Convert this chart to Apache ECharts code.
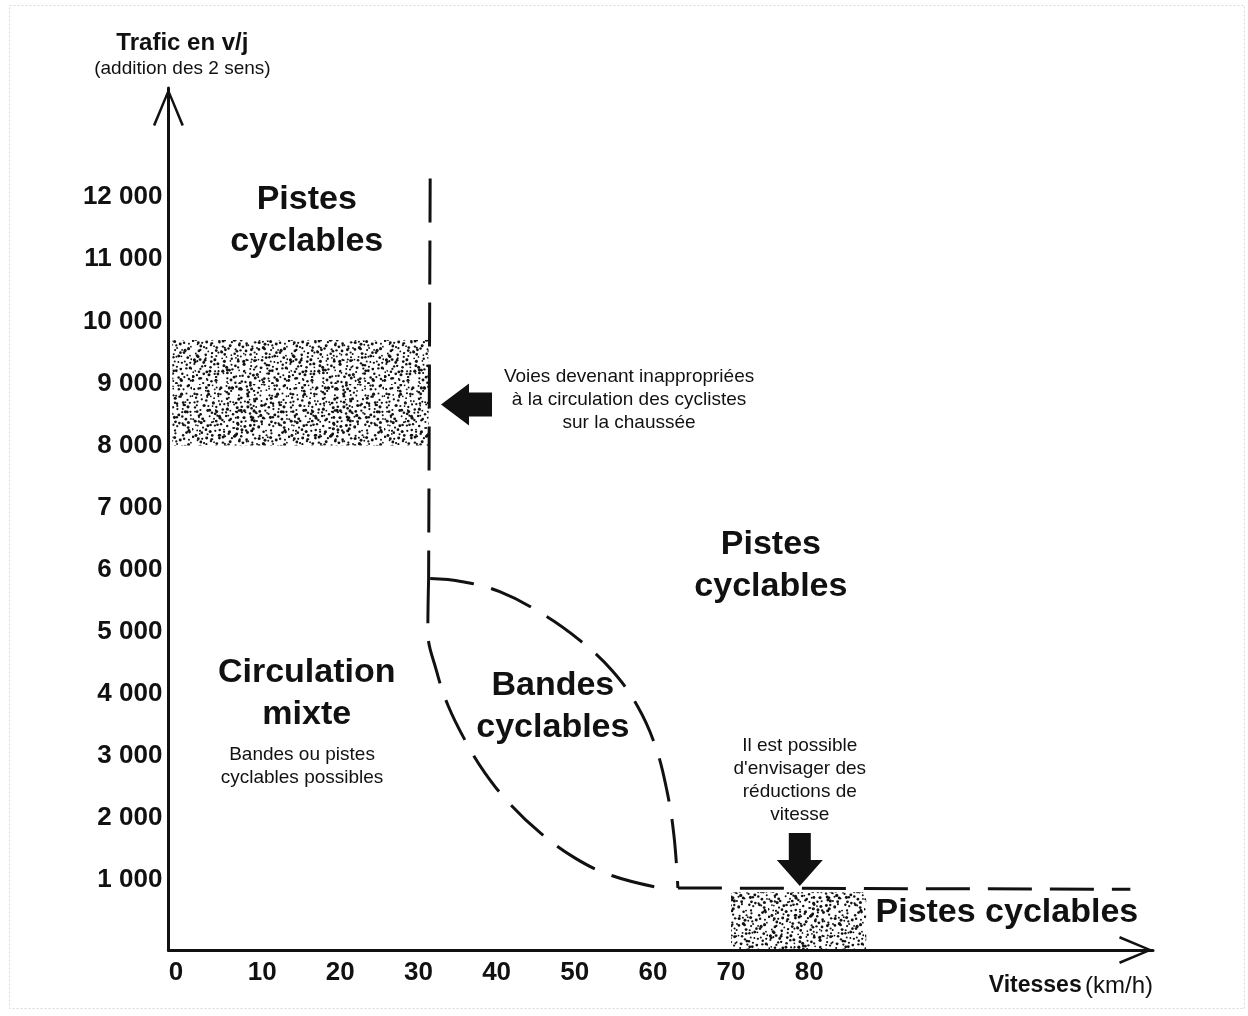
<!DOCTYPE html>
<html>
<head>
<meta charset="utf-8">
<title>Trafic / vitesse – aménagements cyclables</title>
<script src="https://cdn.jsdelivr.net/npm/echarts@6/dist/echarts.min.js"></script>
<style>
  html, body { margin: 0; padding: 0; background: #fff; }
  #chart { width: 1248px; height: 1016px; }
</style>
</head>
<body>
<div id="chart"></div>
<script>
const xTicks = [0, 10, 20, 30, 40, 50, 60, 70, 80]
const yTicks = [1000, 2000, 3000, 4000, 5000, 6000, 7000, 8000, 9000, 10000, 11000, 12000]

// limite verticale (~30 km/h)
const limit30 = [[31.5, 12300], [31.3, 5850]]
// fuseau "bandes cyclables" : bord bas / gauche
const bandesLower = [
  [31.3, 5850], [31.2, 5016], [32.3, 4371], [33.8, 3806], [36.0, 3242], [38.5, 2726],
  [41.7, 2226], [45.6, 1758], [50.0, 1355], [54.5, 1081], [60.3, 887]
]
// fuseau "bandes cyclables" : bord haut / droit
const bandesUpper = [
  [31.5, 5855], [35.6, 5806], [40.4, 5645], [45.6, 5306], [50.7, 4855], [54.8, 4371],
  [58.0, 3806], [60.3, 3161], [61.8, 2435], [62.7, 1710], [63.2, 870]
]
// seuil bas, au-delà de 60 km/h
const limitLow = [[63.2, 870], [121.1, 850]]

// zones en pointillé [x0, x1, y0, y1]
const stippleZones = [
  [-1.5, 31.3, 8000, 9700],
  [70, 87.3, -129, 800]
]

const arrowsLeft = [[36.15, 8661]]
const arrowsDown = [[78.8, 1331]]

const zoneLabels = [
  [15.7, 11629, 'Pistes\ncyclables'],
  [75.1, 6065, 'Pistes\ncyclables'],
  [15.7, 4000, 'Circulation\nmixte'],
  [47.2, 3790, 'Bandes\ncyclables'],
  [105.3, 468, 'Pistes cyclables']
]
const noteLabels = [
  [15.1, 2831, 'Bandes ou pistes\ncyclables possibles'],
  [56.95, 8734, 'Voies devenant inappropriées\nà la circulation des cyclistes\nsur la chaussée'],
  [78.8, 2605, 'Il est possible\nd\'envisager des\nréductions de\nvitesse']
]

const INK = '#111111'
const FONT = '"Liberation Sans", Arial, sans-serif'

function makeStipple() {
  const c = document.createElement('canvas')
  c.width = 96
  c.height = 96
  const ctx = c.getContext('2d')
  ctx.fillStyle = INK
  let s = 12345
  const rnd = () => (s = (s * 16807) % 2147483647) / 2147483647
  for (let gy = 0; gy < 96; gy += 4) {
    for (let gx = 0; gx < 96; gx += 4) {
      if (rnd() < 0.12) continue
      ctx.beginPath()
      ctx.arc(gx + rnd() * 4, gy + rnd() * 4, 0.85 + rnd() * 0.75, 0, Math.PI * 2)
      ctx.fill()
    }
  }
  return c
}
const stipple = makeStipple()

const dashed = { color: INK, width: 3, type: [44, 18], cap: 'butt' }

const chart = echarts.init(document.getElementById('chart'), null, { renderer: 'canvas' })

const option = {
  backgroundColor: '#fff',
  animation: false,
  textStyle: { fontFamily: FONT, color: INK },
  graphic: [{
    type: 'rect',
    silent: true,
    shape: { x: 9.5, y: 5.5, width: 1235, height: 1003 },
    style: { fill: null, stroke: '#d4d8df', lineWidth: 1, lineDash: [2, 2] }
  }],
  grid: { left: 168.4, right: 95, top: 88, bottom: 66, outerBoundsMode: 'none' },
  xAxis: {
    type: 'value',
    min: -2,
    max: 124,
    splitLine: { show: false },
    axisTick: { show: false },
    axisLine: {
      onZero: false,
      lineStyle: { color: INK, width: 3 },
      symbol: ['none', 'path://M14,0 L28,33 L25.6,34 L14,6 L2.4,34 L0,33 Z'],
      symbolSize: [28, 34],
      symbolOffset: [0, -17]
    },
    axisLabel: {
      customValues: xTicks,
      margin: 10,
      color: INK,
      fontSize: 26,
      fontWeight: 'bold',
      fontFamily: FONT,
      formatter: v => (v === 0 ? '{z|0}' : String(v)),
      rich: { z: { fontSize: 26, fontWeight: 'bold', fontFamily: FONT, color: INK, padding: [0, 16, 0, 0] } }
    },
    name: '{b|Vitesses} {r|(km/h)}',
    nameLocation: 'end',
    nameGap: 0,
    nameTextStyle: {
      align: 'right',
      verticalAlign: 'top',
      padding: [24, 0, 0, 0],
      rich: {
        b: { fontSize: 23, fontWeight: 'bold', fontFamily: FONT, color: INK },
        r: { fontSize: 24, fontFamily: FONT, color: INK }
      }
    }
  },
  yAxis: {
    type: 'value',
    min: -129,
    max: 13760,
    splitLine: { show: false },
    axisTick: { show: false },
    axisLine: {
      onZero: false,
      lineStyle: { color: INK, width: 3 },
      symbol: ['none', 'path://M15.5,0 L31,37 L28.6,38 L15.5,6 L2.4,38 L0,37 Z'],
      symbolSize: [31, 38],
      symbolOffset: [0, -19]
    },
    axisLabel: {
      customValues: yTicks,
      margin: 6,
      color: INK,
      fontSize: 26,
      fontWeight: 'bold',
      fontFamily: FONT,
      formatter: v => Math.round(v / 1000) + ' 000'
    },
    name: '{a|Trafic en v/j}\n{b|(addition des 2 sens)}',
    nameLocation: 'end',
    nameGap: 7,
    nameTextStyle: {
      align: 'center',
      verticalAlign: 'bottom',
      padding: [0, 0, 0, 28],
      rich: {
        a: { fontSize: 24, fontWeight: 'bold', fontFamily: FONT, color: INK, lineHeight: 28, align: 'center' },
        b: { fontSize: 19, fontFamily: FONT, color: INK, lineHeight: 24, align: 'center' }
      }
    }
  },
  series: [
    {
      type: 'custom',
      name: 'zones',
      z: 1,
      data: stippleZones,
      encode: { x: [0, 1], y: [2, 3] },
      renderItem: (params, api) => {
        const p0 = api.coord([api.value(0), api.value(3)])
        const p1 = api.coord([api.value(1), api.value(2)])
        return {
          type: 'rect',
          shape: { x: p0[0], y: p0[1], width: p1[0] - p0[0], height: p1[1] - p0[1] },
          style: { fill: { image: stipple, repeat: 'repeat' } }
        }
      }
    },
    { type: 'line', data: limit30, symbol: 'none', z: 3, lineStyle: dashed },
    { type: 'line', data: bandesLower, symbol: 'none', smooth: 0.4, z: 3, lineStyle: dashed },
    { type: 'line', data: bandesUpper, symbol: 'none', smooth: 0.4, z: 3, lineStyle: dashed },
    { type: 'line', data: limitLow, symbol: 'none', z: 3, lineStyle: dashed },
    {
      type: 'scatter',
      data: arrowsLeft,
      z: 4,
      symbol: 'path://M0,21 L28,0 L28,9 L51,9 L51,33 L28,33 L28,42 Z',
      symbolSize: [51, 42],
      itemStyle: { color: INK, opacity: 1 }
    },
    {
      type: 'scatter',
      data: arrowsDown,
      z: 4,
      symbol: 'path://M12,0 L34,0 L34,27 L46,27 L23,53 L0,27 L12,27 Z',
      symbolSize: [46, 53],
      itemStyle: { color: INK, opacity: 1 }
    },
    {
      type: 'scatter',
      data: zoneLabels.map(d => ({ value: [d[0], d[1]], name: d[2] })),
      symbolSize: 0,
      z: 5,
      silent: true,
      itemStyle: { opacity: 1 },
      label: {
        show: true,
        position: 'inside',
        formatter: '{b}',
        color: INK,
        fontFamily: FONT,
        fontSize: 34,
        fontWeight: 'bold',
        lineHeight: 42,
        align: 'center'
      }
    },
    {
      type: 'scatter',
      data: noteLabels.map(d => ({ value: [d[0], d[1]], name: d[2] })),
      symbolSize: 0,
      z: 5,
      silent: true,
      itemStyle: { opacity: 1 },
      label: {
        show: true,
        position: 'inside',
        formatter: '{b}',
        color: INK,
        fontFamily: FONT,
        fontSize: 19,
        lineHeight: 23,
        align: 'center'
      }
    }
  ]
}

chart.setOption(option)
window.addEventListener('resize', () => chart.resize())
</script>
</body>
</html>
